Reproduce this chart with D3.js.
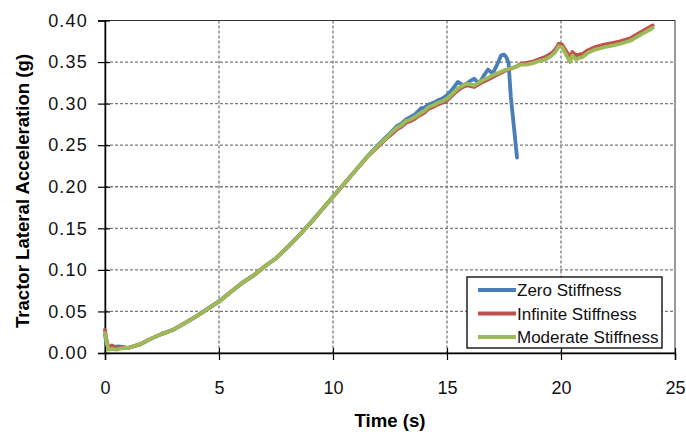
<!DOCTYPE html>
<html>
<head>
<meta charset="utf-8">
<script src="https://d3js.org/d3.v7.min.js"></script>
<style>
  body { margin: 0; background: #fff; }
  text { font-family: "Liberation Sans", Arial, sans-serif; }
</style>
</head>
<body>
<div id="chart"></div>
<script>
// Moderate stiffness (green) and infinite stiffness (red) share this time base
const timeMain = [0, 0.05, 0.15, 0.3, 0.5, 0.8, 1.0, 1.5, 2.0, 2.5, 3.0, 3.5, 4.0, 4.5, 5.0,
  5.5, 6.0, 6.5, 7.0, 7.5, 8.0, 8.5, 9.0, 9.5, 10.0, 10.5, 11.0, 11.5, 12.0, 12.3, 12.6,
  12.8, 13.0, 13.2, 13.4, 13.6, 13.8, 14.0, 14.2, 14.4, 14.6, 14.8, 15.0, 15.2, 15.47,
  15.7, 15.9, 16.2, 16.56, 16.8, 17.0, 17.5, 18.0, 18.25, 18.5, 18.8, 19.0, 19.3, 19.56,
  19.75, 19.9, 20.05, 20.2, 20.4, 20.5, 20.66, 20.8, 20.95, 21.17, 21.5, 21.9, 22.3,
  22.6, 23.07, 23.5, 24.02];

const moderate = [0.024, 0.016, 0.004, 0.005, 0.004, 0.006, 0.006, 0.010, 0.017, 0.023,
  0.028, 0.036, 0.044, 0.053, 0.062, 0.073, 0.084, 0.093, 0.104, 0.114, 0.127, 0.141,
  0.156, 0.172, 0.188, 0.204, 0.220, 0.236, 0.250, 0.258, 0.266, 0.271, 0.274, 0.279,
  0.281, 0.284, 0.288, 0.291, 0.296, 0.298, 0.301, 0.303, 0.306, 0.311, 0.318, 0.322,
  0.324, 0.322, 0.328, 0.331, 0.334, 0.340, 0.344, 0.347, 0.347, 0.349, 0.351, 0.353,
  0.357, 0.362, 0.369, 0.368, 0.360, 0.350, 0.358, 0.353, 0.355, 0.356, 0.361, 0.365,
  0.368, 0.370, 0.372, 0.376, 0.383, 0.391];

const infinite = [0.028, 0.018, 0.006, 0.009, 0.006, 0.007, 0.006, 0.010, 0.017, 0.023,
  0.028, 0.036, 0.044, 0.053, 0.062, 0.073, 0.084, 0.093, 0.104, 0.114, 0.127, 0.141,
  0.156, 0.172, 0.188, 0.204, 0.220, 0.236, 0.249, 0.257, 0.264, 0.269, 0.272, 0.277,
  0.279, 0.282, 0.286, 0.289, 0.294, 0.296, 0.299, 0.301, 0.304, 0.309, 0.316, 0.320,
  0.322, 0.320, 0.326, 0.329, 0.332, 0.339, 0.344, 0.348, 0.349, 0.351, 0.353, 0.356,
  0.360, 0.365, 0.372, 0.371, 0.364, 0.356, 0.362, 0.358, 0.359, 0.360, 0.364, 0.368,
  0.371, 0.373, 0.375, 0.379, 0.386, 0.394];

// Zero stiffness (blue) ends at about 18 s
const timeZero = [0, 0.05, 0.15, 0.3, 0.6, 0.8, 1.0, 1.5, 2.0, 2.5, 3.0, 3.5, 4.0, 4.5, 5.0,
  5.5, 6.0, 6.5, 7.0, 7.5, 8.0, 8.5, 9.0, 9.5, 10.0, 10.5, 11.0, 11.5, 12.0, 12.3, 12.6,
  12.8, 13.0, 13.2, 13.4, 13.6, 13.86, 14.0, 14.2, 14.4, 14.6, 14.8, 15.0, 15.2, 15.47,
  15.75, 16.0, 16.2, 16.4, 16.6, 16.8, 17.0, 17.2, 17.37, 17.5, 17.6, 17.7, 17.8, 17.95,
  18.07];

const zero = [0.022, 0.014, 0.005, 0.007, 0.008, 0.007, 0.006, 0.010, 0.017, 0.023,
  0.028, 0.036, 0.044, 0.053, 0.062, 0.073, 0.084, 0.093, 0.104, 0.114, 0.127, 0.141,
  0.156, 0.172, 0.188, 0.204, 0.220, 0.236, 0.251, 0.259, 0.267, 0.273, 0.276, 0.281,
  0.284, 0.287, 0.2945, 0.295, 0.299, 0.301, 0.304, 0.306, 0.310, 0.316, 0.326, 0.322,
  0.327, 0.330, 0.324, 0.333, 0.341, 0.336, 0.347, 0.358, 0.359, 0.356, 0.349, 0.308,
  0.268, 0.235];

const seriesNames = ["Zero Stiffness", "Infinite Stiffness", "Moderate Stiffness"];
const seriesColors = ["#4a7ebb", "#c0504d", "#9bbb59"];
const xTicks = [0, 5, 10, 15, 20, 25];
const yTicks = [0, 0.05, 0.10, 0.15, 0.20, 0.25, 0.30, 0.35, 0.40];

const W = 686, H = 434;
const margin = { top: 20.5, right: 11, bottom: 81, left: 105 };
const iw = W - margin.left - margin.right;
const ih = H - margin.top - margin.bottom;

const svg = d3.select("#chart").append("svg")
  .attr("width", W).attr("height", H);
const g = svg.append("g").attr("transform", `translate(${margin.left},${margin.top})`);

const x = d3.scaleLinear().domain([0, 25]).range([0, iw]);
const y = d3.scaleLinear().domain([0, 0.4]).range([ih, 0]);

// dashed gridlines
g.append("g").selectAll("line")
  .data(xTicks.filter(d => d > 0 && d < 25))
  .join("line")
  .attr("x1", d => x(d)).attr("x2", d => x(d))
  .attr("y1", 0).attr("y2", ih)
  .attr("stroke", "#7a7a7a").attr("stroke-width", 1.3).attr("stroke-dasharray", "3,2");
g.append("g").selectAll("line")
  .data(yTicks.filter(d => d > 0 && d < 0.4))
  .join("line")
  .attr("x1", 0).attr("x2", iw)
  .attr("y1", d => y(d)).attr("y2", d => y(d))
  .attr("stroke", "#7a7a7a").attr("stroke-width", 1.3).attr("stroke-dasharray", "3,2");

// plot frame
g.append("rect").attr("width", iw).attr("height", ih)
  .attr("fill", "none").attr("stroke", "#333").attr("stroke-width", 1);

// axes (ticks cross the axis line)
const xAxis = g.append("g").attr("transform", `translate(0,${ih})`)
  .call(d3.axisBottom(x).tickValues(xTicks).tickFormat(d3.format("d")).tickSize(7).tickPadding(21));
const yAxis = g.append("g")
  .call(d3.axisLeft(y).tickValues(yTicks).tickFormat(d3.format(".2f")).tickSize(7).tickPadding(10));
[xAxis, yAxis].forEach(a => {
  a.select(".domain").attr("stroke", "#000").attr("stroke-width", 1.5);
  a.selectAll(".tick line").attr("stroke", "#000").attr("stroke-width", 1.2);
  a.selectAll("text").attr("font-size", 18).attr("fill", "#111")
    .attr("font-family", "Liberation Sans, Arial, sans-serif");
});
xAxis.selectAll(".tick").append("line")
  .attr("y1", 0).attr("y2", -5).attr("stroke", "#000").attr("stroke-width", 1.2);
yAxis.selectAll(".tick").append("line")
  .attr("x1", 0).attr("x2", 5).attr("stroke", "#000").attr("stroke-width", 1.2);
yAxis.selectAll("text").attr("letter-spacing", 1.2);

// series lines
const line = d3.line().x(d => x(d[0])).y(d => y(d[1])).curve(d3.curveLinear);
const series = [
  d3.zip(timeZero, zero),
  d3.zip(timeMain, infinite),
  d3.zip(timeMain, moderate)
];
g.append("g").selectAll("path")
  .data(series)
  .join("path")
  .attr("d", line)
  .attr("fill", "none")
  .attr("stroke", (d, i) => seriesColors[i])
  .attr("stroke-width", 3.8)
  .attr("stroke-linejoin", "round")
  .attr("stroke-linecap", "round");

// axis titles
svg.append("text")
  .attr("x", 390).attr("y", 427)
  .attr("text-anchor", "middle")
  .attr("font-size", 18.6).attr("font-weight", "bold")
  .text("Time (s)");
svg.append("text")
  .attr("transform", `translate(28.5,191) rotate(-90)`)
  .attr("text-anchor", "middle")
  .attr("font-size", 18.6).attr("font-weight", "bold")
  .text("Tractor Lateral Acceleration (g)");

// legend
const lg = svg.append("g").attr("transform", "translate(467,277)");
lg.append("rect").attr("width", 195).attr("height", 71)
  .attr("fill", "#fff").attr("stroke", "#111").attr("stroke-width", 1.4);
const rows = lg.selectAll("g.row").data(seriesNames).join("g")
  .attr("class", "row")
  .attr("transform", (d, i) => `translate(0,${13 + i * 23.5})`);
rows.append("line")
  .attr("x1", 11).attr("x2", 49).attr("y1", 0).attr("y2", 0)
  .attr("stroke", (d, i) => seriesColors[i]).attr("stroke-width", 3.8);
rows.append("text")
  .attr("x", 50).attr("y", 6)
  .attr("font-size", 17).attr("fill", "#111")
  .text(d => d);
</script>
</body>
</html>
